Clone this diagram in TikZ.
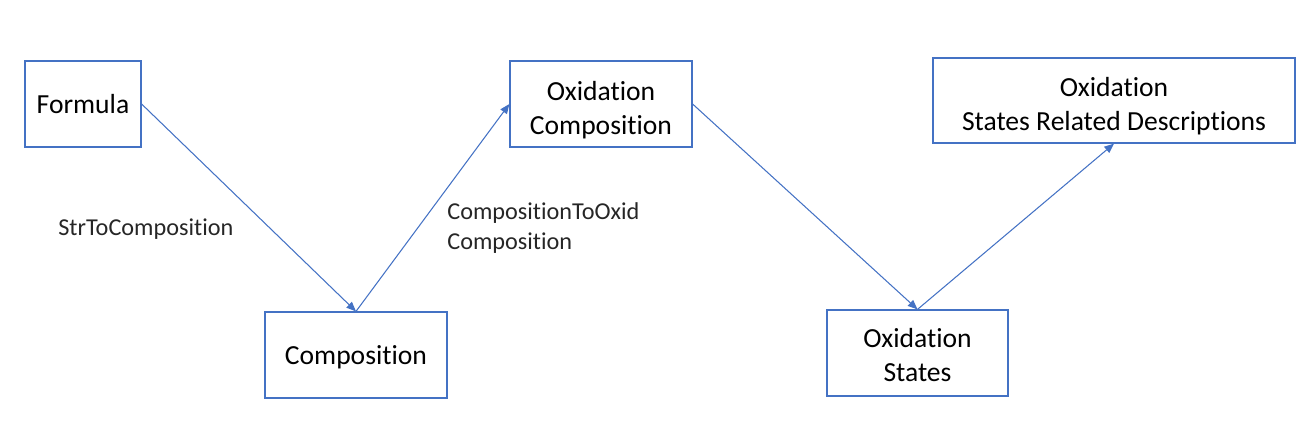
\documentclass[tikz,border=0pt]{standalone}
\usepackage{fontspec}
\setmainfont{Carlito}[Ligatures={NoCommon,NoContextual}]
\usetikzlibrary{arrows.meta, positioning}
\definecolor{officeblue}{HTML}{4472C4}
% push the first line of a box text down a little
\newcommand{\textdrop}[2]{\raisebox{0pt}[\dimexpr\height+#1\relax]{#2}}

\begin{document}
\begin{tikzpicture}[>={Triangle[length=5.5pt, width=4.5pt]}, x=0.02cm, y=-0.02cm,
    stepbox/.style={draw=officeblue, line width=0.7pt, align=center, font=\fontsize{15.7}{19.4}\selectfont, inner sep=0pt},
    flow/.style={->, officeblue, line width=0.6pt},
    steplabel/.style={anchor=west, align=left, text=black!85, font=\fontsize{13.8}{17}\selectfont, inner sep=0pt}]

% Fix the page to the reference size
\useasboundingbox (0,0) rectangle (1316,437);

% Boxes of the conversion chain
\node[stepbox, minimum width=116*0.02cm, minimum height=86*0.02cm] (formula) at (83,104) {Formula};
\node[stepbox, minimum width=182*0.02cm, minimum height=86*0.02cm] (comp) at (356,355) {\textdrop{0.08cm}{Composition}};
\node[stepbox, minimum width=182*0.02cm, minimum height=86*0.02cm] (oxcomp) at (601,104) {\textdrop{0.24cm}{Oxidation}\\Composition};
\node[stepbox, minimum width=181*0.02cm, minimum height=86*0.02cm] (oxstates) at (917.5,353) {\textdrop{0.08cm}{Oxidation}\\States};
\node[stepbox, minimum width=362*0.02cm, minimum height=85*0.02cm] (descr) at (1114,100.5) {\textdrop{0.24cm}{Oxidation}\\States Related Descriptions};

% Connectors
\draw[flow] (formula.east) -- (comp.north);
\draw[flow] (comp.north) -- (oxcomp.west);
\draw[flow] (oxcomp.east) -- (oxstates.north);
\draw[flow] (oxstates.north) -- (descr.south);

% Labels of the conversions
\node[steplabel] (strlabel) at (58,229.5) {StrToComposition};
\node[steplabel] (oxidlabel) at (447,228) {CompositionToOxid\\Composition};

\end{tikzpicture}
\end{document}
